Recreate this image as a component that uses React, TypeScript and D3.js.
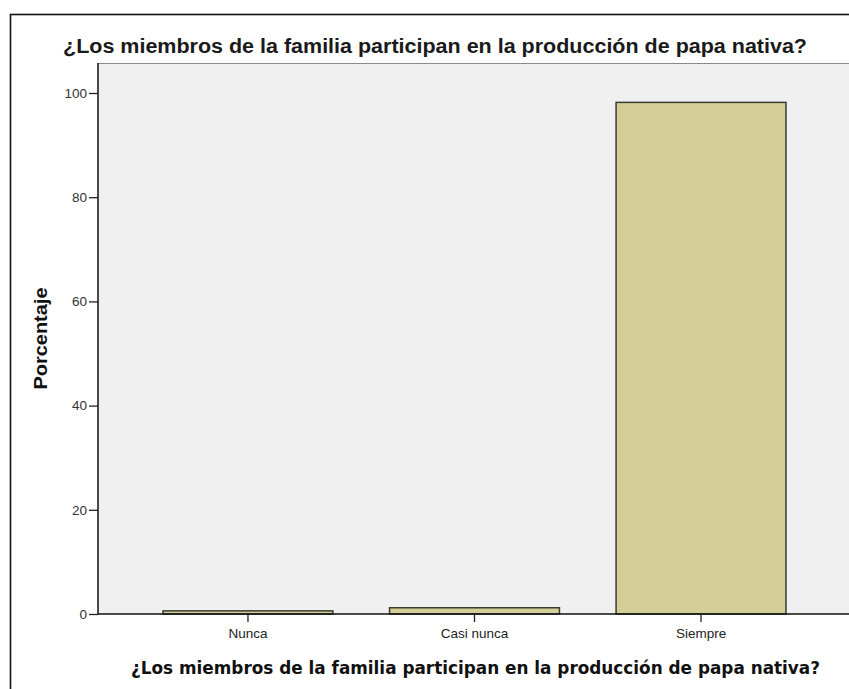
import React, { useEffect, useRef } from 'react';
import * as d3 from 'd3';

// chart data
const categories = ['Nunca', 'Casi nunca', 'Siempre'];
const percentages = [0.6, 1.2, 98.2];
const yTicks = [0, 20, 40, 60, 80, 100];

const titleText = '¿Los miembros de la familia participan en la producción de papa nativa?';
const yLabel = 'Porcentaje';

const App = () => {
  const svgRef = useRef<SVGSVGElement>(null);

  useEffect(() => {
    const width = 849;
    const height = 689;
    const plot = { left: 98, right: 851, top: 63, bottom: 614 };

    const svg = d3.select(svgRef.current);
    svg.selectAll('*').remove();
    svg.attr('width', width).attr('height', height);

    // page background
    svg.append('rect')
      .attr('width', width)
      .attr('height', height)
      .attr('fill', '#ffffff');

    // outer frame (cut by the right and bottom edges)
    svg.append('rect')
      .attr('x', 10.5)
      .attr('y', 14.5)
      .attr('width', 860)
      .attr('height', 700)
      .attr('fill', 'none')
      .attr('stroke', '#111')
      .attr('stroke-width', 1.6);

    // title
    svg.append('text')
      .attr('x', 63)
      .attr('y', 53)
      .attr('textLength', 744)
      .attr('lengthAdjust', 'spacingAndGlyphs')
      .attr('font-family', '"Liberation Sans", Arial, sans-serif')
      .attr('font-weight', 'bold')
      .attr('font-size', 19.5)
      .attr('fill', '#1a1a1a')
      .text(titleText);

    // plot background
    svg.append('rect')
      .attr('x', plot.left)
      .attr('y', plot.top)
      .attr('width', plot.right - plot.left)
      .attr('height', plot.bottom - plot.top)
      .attr('fill', '#f0f0f0');

    svg.append('line')
      .attr('x1', plot.left)
      .attr('x2', plot.right)
      .attr('y1', plot.top + 0.5)
      .attr('y2', plot.top + 0.5)
      .attr('stroke', '#8a8a8a')
      .attr('stroke-width', 1.2);

    // scales
    const xScale = d3.scaleBand<string>()
      .domain(categories)
      .range([plot.left, plot.right])
      .paddingInner(0.25)
      .paddingOuter(0.287);

    const yScale = d3.scaleLinear()
      .domain([0, 100])
      .range([plot.bottom, 93]);

    // bars
    svg.selectAll('.bar')
      .data(categories)
      .enter().append('rect')
      .attr('class', 'bar')
      .attr('x', d => xScale(d) as number)
      .attr('y', (d, i) => yScale(percentages[i]))
      .attr('width', xScale.bandwidth())
      .attr('height', (d, i) => yScale(0) - yScale(percentages[i]))
      .attr('fill', '#d3cd98')
      .attr('stroke', '#3c3b30')
      .attr('stroke-width', 1.5);

    // y axis
    const yAxis = svg.append('g')
      .attr('transform', `translate(${plot.left},0)`)
      .call(d3.axisLeft(yScale).tickValues(yTicks).tickSize(9).tickPadding(2));
    yAxis.select('.domain')
      .attr('d', `M0,${plot.top}V${plot.bottom}`)
      .attr('stroke', '#111')
      .attr('stroke-width', 1.5);
    yAxis.selectAll('.tick line').attr('stroke', '#222').attr('stroke-width', 1.3);
    yAxis.selectAll('.tick text')
      .attr('font-family', '"Liberation Sans", Arial, sans-serif')
      .attr('font-size', 13.5)
      .attr('fill', '#333');

    // x axis
    const xAxis = svg.append('g')
      .attr('transform', `translate(0,${plot.bottom})`)
      .call(d3.axisBottom(xScale).tickSize(8).tickPadding(6));
    xAxis.select('.domain')
      .attr('d', `M${plot.left},0H${plot.right}`)
      .attr('stroke', '#111')
      .attr('stroke-width', 1.5);
    xAxis.selectAll('.tick line').attr('stroke', '#222').attr('stroke-width', 1.3);
    xAxis.selectAll('.tick text')
      .attr('font-family', '"Liberation Sans", Arial, sans-serif')
      .attr('font-size', 13.5)
      .attr('fill', '#222');

    // axis titles
    svg.append('text')
      .attr('transform', `translate(47,${(plot.top + plot.bottom) / 2}) rotate(-90)`)
      .attr('text-anchor', 'middle')
      .attr('textLength', 102)
      .attr('lengthAdjust', 'spacingAndGlyphs')
      .attr('font-family', '"Liberation Sans", Arial, sans-serif')
      .attr('font-weight', 'bold')
      .attr('font-size', 18)
      .attr('fill', '#111')
      .text(yLabel);

    svg.append('text')
      .attr('x', 131)
      .attr('y', 674)
      .attr('textLength', 689)
      .attr('lengthAdjust', 'spacingAndGlyphs')
      .attr('font-family', '"DejaVu Sans", Verdana, sans-serif')
      .attr('font-weight', 'bold')
      .attr('font-size', 17.5)
      .attr('fill', '#111')
      .text(titleText);
  }, []);

  return (
    <svg
      ref={svgRef}
      style={{ position: 'absolute', left: 0, top: 0, display: 'block' }}
    ></svg>
  );
};

export default App;
